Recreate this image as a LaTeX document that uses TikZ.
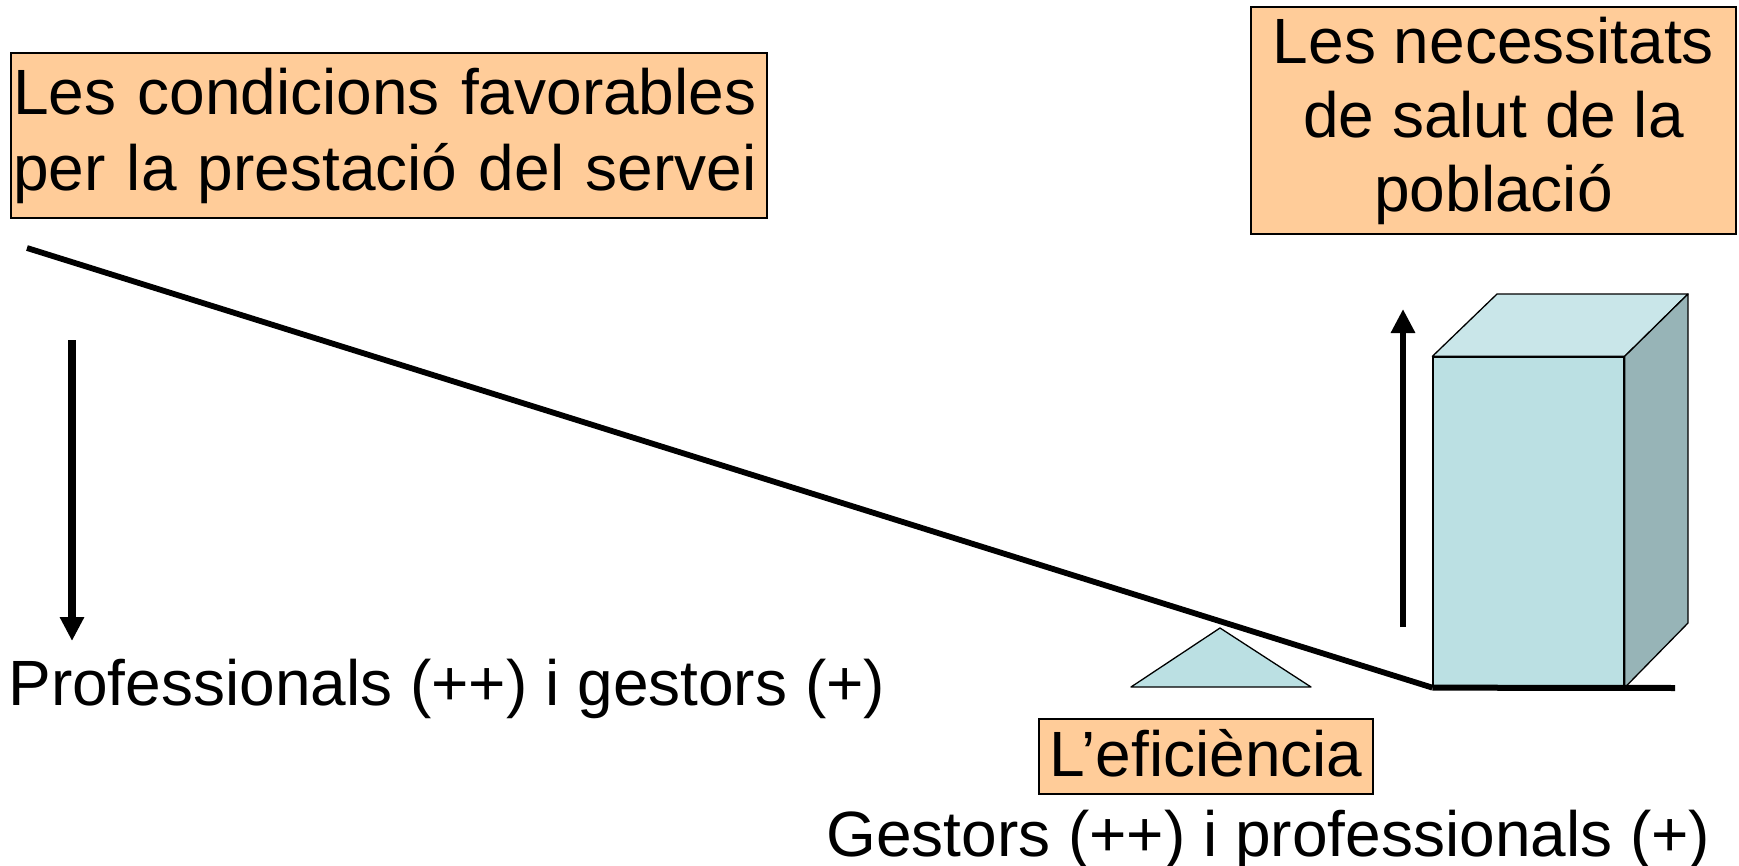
\documentclass[tikz,border=0pt]{standalone}
\usepackage{fontspec}
\setmainfont{Liberation Sans}
\usetikzlibrary{arrows.meta}
\definecolor{boxorange}{HTML}{FFCC99}
\definecolor{cubefront}{HTML}{BBE0E3}
\definecolor{cubetop}{HTML}{C9E6E9}
\definecolor{cubeside}{HTML}{97B4B7}
\begin{document}
\begin{tikzpicture}[x=0.5pt,y=-0.5pt,
  labelbox/.style={draw=black, line width=0.8pt, fill=boxorange, inner sep=0pt, font=\fontsize{32}{38}\selectfont},
  plaintext/.style={inner sep=0pt, font=\fontsize{32}{38}\selectfont},
  beam/.style={line width=2.9pt},
  ground/.style={line width=3pt},
  bigarrow/.style={-{Triangle[width=11.5pt,length=12pt]}},
  face/.style={draw=black, line width=0.65pt, line join=round},
]
\useasboundingbox (0,0) rectangle (1739,866);
% text boxes
\node[labelbox, text width=376pt, inner xsep=1pt, minimum height=82.5pt, align=left] (cond) at (389,135.5) {Les condicions favorables\\per la prestació del servei};
\node[labelbox, minimum width=242.5pt, minimum height=113.5pt, align=center, font=\fontsize{32}{37}\selectfont] (need) at (1493.5,120.5) {Les necessitats\\de salut de la\\població};
\node[labelbox, minimum width=167pt, text height=28.5pt, text depth=9pt] (eff) at (1206,756.5) {L’eficiència};
\node[plaintext, anchor=base west] (prof) at (8,705) {Professionals (++) i gestors (+)};
\node[plaintext, anchor=base west] (gest) at (826,856) {Gestors (++) i professionals (+)};
% cube
\node[face, fill=cubefront, minimum width=95.5pt, minimum height=165pt, inner sep=0pt] (cube) at (1528.5,522) {};
\coordinate (btl) at (1497,294);
\coordinate (btr) at (1688,294);
\coordinate (bbr) at (1688,623);
\draw[face, fill=cubetop] (cube.north west) -- (btl) -- (btr) -- (cube.north east) -- cycle;
\draw[face, fill=cubeside] (cube.north east) -- (btr) -- (bbr) -- (cube.south east) -- cycle;
% fulcrum
\coordinate (fa) at (1220,628);
\coordinate (fl) at (1131,687);
\coordinate (fr) at (1311,687);
\draw[face, fill=cubefront] (fl) -- (fa) -- (fr) -- cycle;
% beam and ground
\coordinate (beamL) at (27,248);
\coordinate (gend) at (1675,688);
\draw[beam] (beamL) -- (cube.south west);
\draw[ground] (cube.south west) -- (gend);
% arrows
\coordinate (dtop) at (72,340);
\coordinate (dtip) at (72,641);
\draw[bigarrow, line width=4.2pt] (dtop) -- (dtip);
\coordinate (ubot) at (1403,627);
\coordinate (utip) at (1403,309);
\draw[bigarrow, line width=3.4pt] (ubot) -- (utip);
\end{tikzpicture}
\end{document}
